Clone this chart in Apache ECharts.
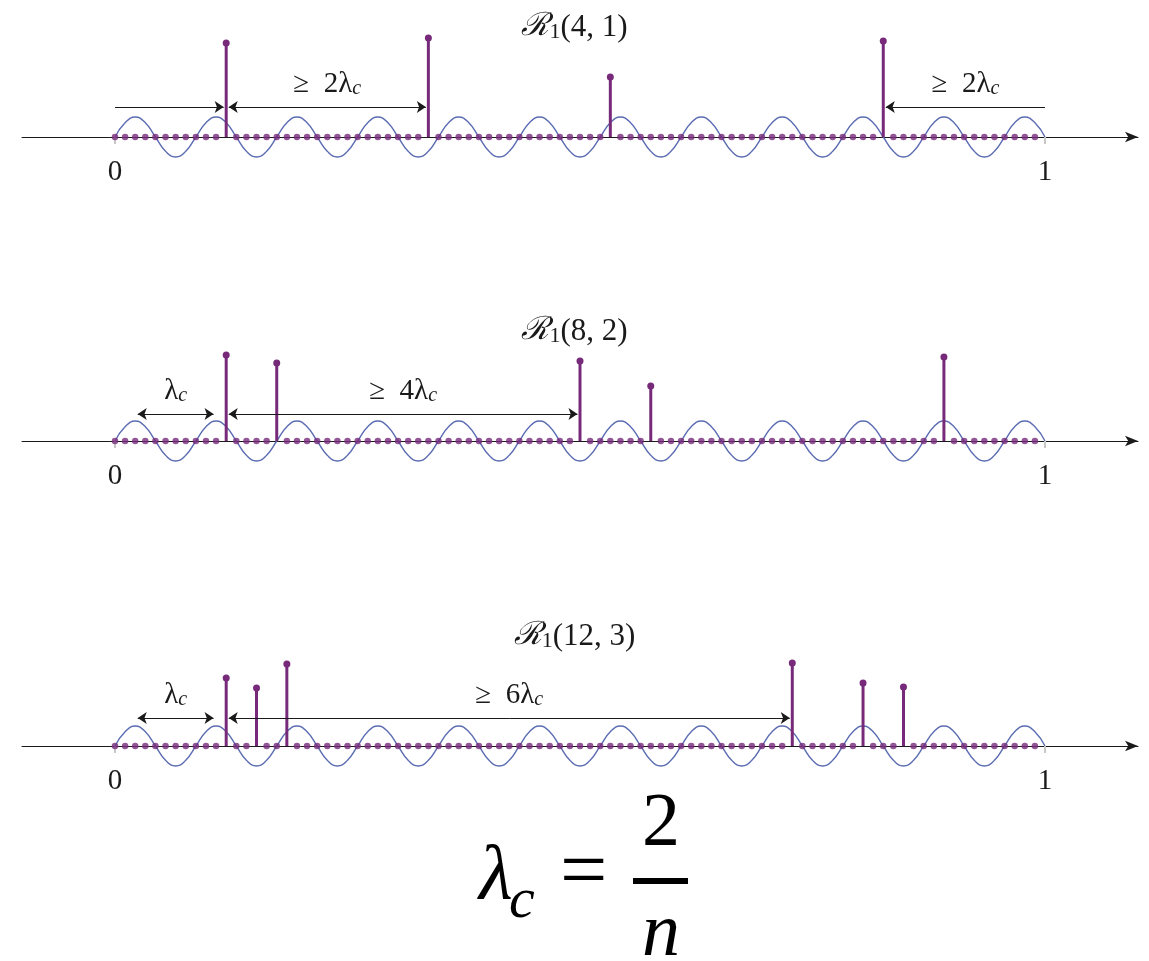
<!DOCTYPE html>
<html>
<head>
<meta charset="utf-8">
<script src="https://cdn.jsdelivr.net/npm/echarts@6/dist/echarts.min.js"></script>
<style>
  html, body { margin: 0; padding: 0; background: #fff; }
  #chart { width: 1149px; height: 961px; }
</style>
</head>
<body>
<div id="chart"></div>
<script>
// grid t = k / 92 on [0, 1], lambda_c = 8 steps (n = 23)
const gridSteps = 92;

// blue curve sampled on the grid (period = lambda_c)
const sineVals = [
  0, 0.71, 1, 0.71, 0, -0.71, -1, -0.71,
  0, 0.71, 1, 0.71, 0, -0.71, -1, -0.71,
  0, 0.71, 1, 0.71, 0, -0.71, -1, -0.71,
  0, 0.71, 1, 0.71, 0, -0.71, -1, -0.71,
  0, 0.71, 1, 0.71, 0, -0.71, -1, -0.71,
  0, 0.71, 1, 0.71, 0, -0.71, -1, -0.71,
  0, 0.71, 1, 0.71, 0, -0.71, -1, -0.71,
  0, 0.71, 1, 0.71, 0, -0.71, -1, -0.71,
  0, 0.71, 1, 0.71, 0, -0.71, -1, -0.71,
  0, 0.71, 1, 0.71, 0, -0.71, -1, -0.71,
  0, 0.71, 1, 0.71, 0, -0.71, -1, -0.71,
  0, 0.71, 1, 0.71, 0
];

const panelTitles = ['(4, 1)', '(8, 2)', '(12, 3)'];

// spikes: grid index and amplitude
const stemIdx1 = [11, 31, 49, 76];
const stemAmp1 = [4.7, 4.95, 3.0, 4.8];
const stemIdx2 = [11, 16, 46, 53, 82];
const stemAmp2 = [4.3, 3.9, 4.0, 2.75, 4.2];
const stemIdx3 = [11, 14, 17, 67, 74, 78];
const stemAmp3 = [3.4, 2.9, 4.1, 4.15, 3.15, 2.95];

// separation arrows: [from index, to index, heads, label]
const arrows1 = [[0, 11, 'end', ''], [11, 31, 'both', '≥  2λ'], [92, 76, 'end', '≥  2λ']];
const arrows2 = [[2, 10, 'both', 'λ'], [11, 46, 'both', '≥  4λ']];
const arrows3 = [[2, 10, 'both', 'λ'], [11, 67, 'both', '≥  6λ']];

const axisMarks = [0, 1];

const purple = '#772a7a';
const blue = '#5b6cb2';
const ink = '#1a1a1a';
const serif = '"Liberation Serif", "DejaVu Serif", serif';

const panels = [
  { title: panelTitles[0], idx: stemIdx1, amp: stemAmp1, arrows: arrows1, top: 17, arrowY: 1.5 },
  { title: panelTitles[1], idx: stemIdx2, amp: stemAmp2, arrows: arrows2, top: 321, arrowY: 1.35 },
  { title: panelTitles[2], idx: stemIdx3, amp: stemAmp3, arrows: arrows3, top: 626, arrowY: 1.4 }
];

const chart = echarts.init(document.getElementById('chart'));

const gap = 0.25; // arrows stop just short of a spike
const isAxisEnd = k => k === 0 || k === gridSteps;

const series = [];
panels.forEach((p, i) => {
  series.push({
    type: 'line',
    xAxisIndex: i,
    yAxisIndex: i,
    data: sineVals.map((v, k) => [k / gridSteps, v]),
    smooth: true,
    showSymbol: false,
    symbol: 'none',
    z: 2,
    lineStyle: { color: blue, width: 1.4 },
    markLine: {
      silent: true,
      symbolSize: 9,
      lineStyle: { color: ink, width: 1, type: 'solid' },
      label: {
        show: true,
        position: 'insideMiddleTop',
        distance: 8,
        formatter: prm => prm.name ? '{m|' + prm.name + '}{s|c}' : '',
        rich: {
          m: { fontSize: 29, fontFamily: serif, color: ink, verticalAlign: 'bottom', lineHeight: 30 },
          s: { fontSize: 20, fontFamily: serif, fontStyle: 'italic', color: ink, verticalAlign: 'bottom', lineHeight: 16 }
        }
      },
      data: p.arrows.map(a => {
        const d = a[1] > a[0] ? 1 : -1;
        const x1 = isAxisEnd(a[0]) ? a[0] : a[0] + gap * d;
        const x2 = isAxisEnd(a[1]) ? a[1] : a[1] - gap * d;
        return [
          { coord: [x1 / gridSteps, p.arrowY], symbol: a[2] === 'both' ? 'arrow' : 'none', name: a[3] },
          { coord: [x2 / gridSteps, p.arrowY], symbol: 'arrow' }
        ];
      })
    }
  });
  series.push({
    type: 'scatter',
    xAxisIndex: i,
    yAxisIndex: i,
    z: 3,
    symbolSize: 6.5,
    itemStyle: { color: purple },
    data: Array.from({ length: gridSteps }, (_, k) => k)
      .filter(k => !p.idx.includes(k))
      .map(k => [k / gridSteps, 0])
  });
  series.push({
    type: 'custom',
    xAxisIndex: i,
    yAxisIndex: i,
    z: 4,
    encode: { x: 0, y: 1 },
    data: p.idx.map((k, j) => [k / gridSteps, p.amp[j]]),
    renderItem: (params, api) => {
      const base = api.coord([api.value(0), 0]);
      const top = api.coord([api.value(0), api.value(1)]);
      return {
        type: 'group',
        children: [
          { type: 'line', shape: { x1: base[0], y1: base[1], x2: top[0], y2: top[1] }, style: { stroke: purple, lineWidth: 3 } },
          { type: 'circle', shape: { cx: top[0], cy: top[1], r: 3.5 }, style: { fill: purple } }
        ]
      };
    }
  });
});

chart.setOption({
  animation: false,
  backgroundColor: '#fff',
  title: panels.map(p => ({
    text: '{r|ℛ}{s|1}{m|' + p.title + '}',
    left: 'center',
    top: p.top - 15,
    textStyle: {
      fontWeight: 'normal',
      rich: {
        r: { fontSize: 32, fontFamily: serif, fontWeight: 'normal', fontStyle: 'italic', color: ink, verticalAlign: 'bottom', lineHeight: 36 },
        s: { fontSize: 22, fontFamily: serif, fontWeight: 'normal', color: ink, verticalAlign: 'bottom', lineHeight: 18 },
        m: { fontSize: 31, fontFamily: serif, fontWeight: 'normal', color: ink, verticalAlign: 'bottom', lineHeight: 36 }
      }
    }
  })),
  grid: panels.map(p => ({ left: 22, right: 11, top: p.top, height: 150 })),
  xAxis: panels.map((p, i) => ({
    gridIndex: i,
    type: 'value',
    min: -0.1,
    max: 1.1,
    splitLine: { show: false },
    axisLine: {
      onZero: true,
      symbol: ['none', 'arrow'],
      symbolSize: [8, 13],
      lineStyle: { color: ink, width: 1 }
    },
    axisTick: { show: true, customValues: axisMarks, length: 7, lineStyle: { color: '#c8c8c8', width: 2 } },
    axisLabel: { customValues: axisMarks, margin: -9, fontSize: 29, fontFamily: serif, color: ink }
  })),
  yAxis: panels.map((p, i) => ({ gridIndex: i, type: 'value', min: -1.5, max: 6, show: false })),
  series: series,
  graphic: [
    { type: 'text', x: 479, y: 878, style: { text: 'λ', font: 'italic 78px "Liberation Serif"', fill: '#000', verticalAlign: 'middle' } },
    { type: 'text', x: 509, y: 902, style: { text: 'c', font: 'italic 58px "Liberation Serif"', fill: '#000', verticalAlign: 'middle' } },
    { type: 'text', x: 560, y: 876, style: { text: '=', font: '84px "Liberation Serif"', fill: '#000', verticalAlign: 'middle' } },
    { type: 'text', x: 661, y: 825, style: { text: '2', font: '76px "Liberation Serif"', fill: '#000', align: 'center', verticalAlign: 'middle' } },
    { type: 'rect', shape: { x: 633, y: 878, width: 55, height: 6 }, style: { fill: '#000' } },
    { type: 'text', x: 661, y: 935, style: { text: 'n', font: 'italic 76px "Liberation Serif"', fill: '#000', align: 'center', verticalAlign: 'middle' } }
  ]
});
</script>
</body>
</html>
